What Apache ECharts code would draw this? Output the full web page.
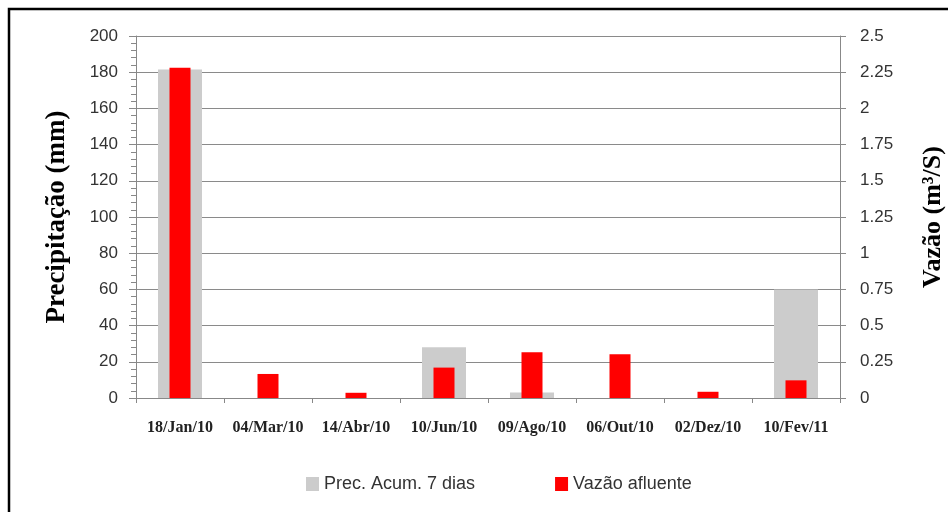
<!DOCTYPE html>
<html>
<head>
<meta charset="utf-8">
<script src="https://cdn.jsdelivr.net/npm/echarts@6/dist/echarts.min.js"></script>
<style>
  html, body { margin: 0; padding: 0; background: #fff; }
  #chart { width: 948px; height: 512px; }
</style>
</head>
<body>
<div id="chart"></div>
<script>
// datas das coletas
const categories = ['18/Jan/10', '04/Mar/10', '14/Abr/10', '10/Jun/10', '09/Ago/10', '06/Out/10', '02/Dez/10', '10/Fev/11']
// precipitação acumulada 7 dias (mm) - eixo esquerdo
const precAcum = [181.5, 0, 0, 28, 3, 0, 0, 60]
// vazão afluente (m3/s) - eixo direito
const vazao = [2.28, 0.166, 0.036, 0.21, 0.316, 0.302, 0.043, 0.122]

const leftTicks = { min: 0, max: 200, interval: 20 }
const rightTicks = { min: 0, max: 2.5, interval: 0.25 }

var myChart = echarts.init(document.getElementById('chart'))

const labelFont = 'Liberation Sans'
const nameFont = 'Liberation Serif'

var option = {
  animation: false,
  grid: { left: 136, right: 108, top: 36, bottom: 114, containLabel: false, outerBoundsMode: 'none' },
  graphic: [{
    type: 'rect',
    shape: { x: 9, y: 9, width: 1000, height: 1000 },
    style: { fill: 'none', stroke: '#000', lineWidth: 2.5 }
  }],
  legend: {
    bottom: 14,
    left: 301,
    icon: 'rect',
    itemWidth: 13,
    itemHeight: 14,
    itemGap: 80,
    textStyle: { fontFamily: labelFont, fontSize: 18, color: '#333' },
    data: ['Prec. Acum. 7 dias', 'Vazão afluente']
  },
  // segundo eixo x (oculto) so para centrar a barra vermelha sobre a cinza
  xAxis: [{
    type: 'category',
    data: categories,
    axisLine: { lineStyle: { color: '#888' } },
    axisTick: { show: true, length: 5, lineStyle: { color: '#888' } },
    axisLabel: {
      interval: 0,
      margin: 22,
      fontFamily: nameFont,
      fontWeight: 'bold',
      fontSize: 16,
      color: '#222'
    }
  }, {
    type: 'category',
    data: categories,
    show: false
  }],
  yAxis: [{
    type: 'value',
    min: leftTicks.min,
    max: leftTicks.max,
    interval: leftTicks.interval,
    name: 'Precipitação (mm)',
    nameLocation: 'middle',
    nameGap: 65,
    nameTextStyle: { fontFamily: nameFont, fontWeight: 'bold', fontSize: 27, color: '#000' },
    axisLine: { show: true, lineStyle: { color: '#888' } },
    axisTick: { show: true, length: 7, lineStyle: { color: '#888' } },
    minorTick: { show: true, splitNumber: 5, length: 5, lineStyle: { color: '#888' } },
    axisLabel: { margin: 18, fontFamily: labelFont, fontSize: 17, color: '#333' },
    splitLine: { show: true, lineStyle: { color: '#8a8a8a', width: 1 } }
  }, {
    type: 'value',
    position: 'right',
    min: rightTicks.min,
    max: rightTicks.max,
    interval: rightTicks.interval,
    name: 'Vazão (m³/S)',
    nameLocation: 'middle',
    nameGap: 80,
    nameRotate: 90,
    nameTextStyle: { fontFamily: nameFont, fontWeight: 'bold', fontSize: 26, color: '#000' },
    axisLine: { show: true, lineStyle: { color: '#888' } },
    axisTick: { show: true, length: 6, lineStyle: { color: '#888' } },
    axisLabel: { margin: 20, fontFamily: labelFont, fontSize: 17, color: '#333' },
    splitLine: { show: false }
  }],
  series: [{
    name: 'Prec. Acum. 7 dias',
    type: 'bar',
    xAxisIndex: 0,
    yAxisIndex: 0,
    data: precAcum,
    barWidth: '50%',
    itemStyle: { color: '#cccccc' }
  }, {
    name: 'Vazão afluente',
    type: 'bar',
    xAxisIndex: 1,
    yAxisIndex: 1,
    data: vazao,
    barWidth: 21,
    z: 3,
    itemStyle: { color: '#ff0000' }
  }]
}

myChart.setOption(option)
</script>
</body>
</html>
